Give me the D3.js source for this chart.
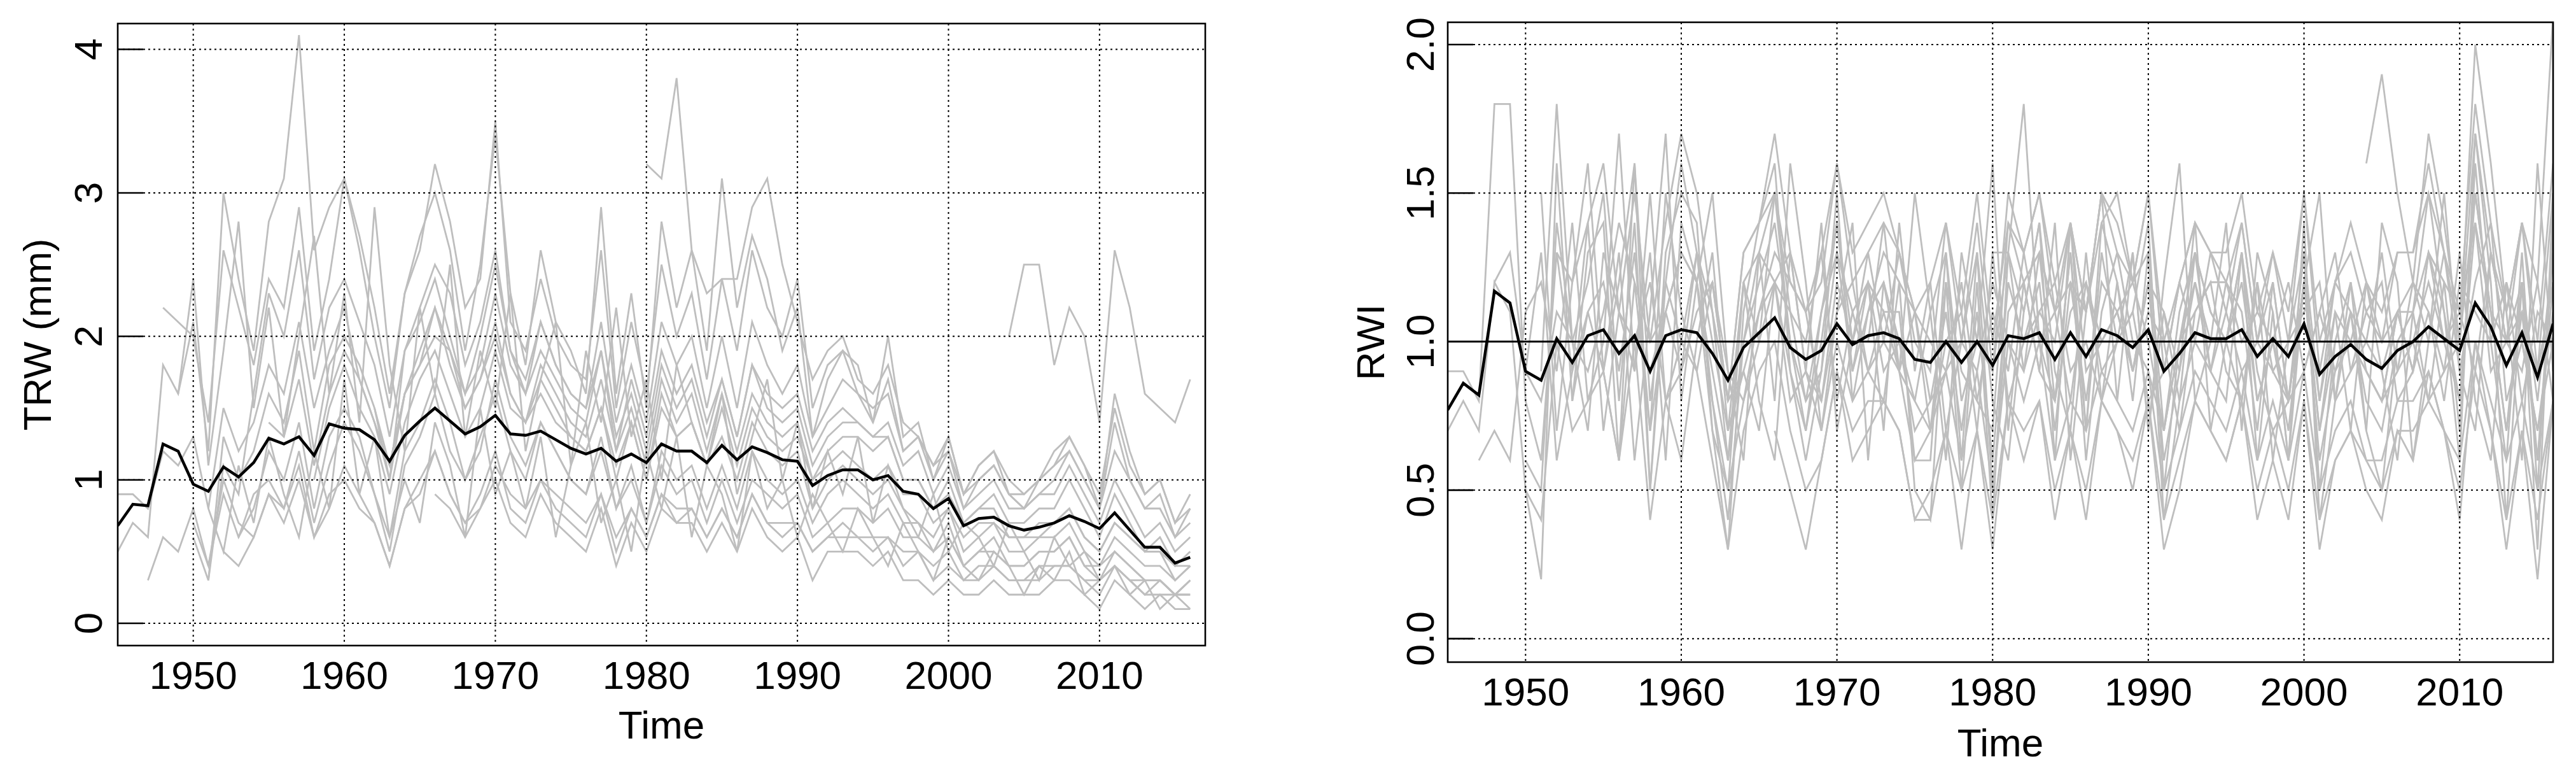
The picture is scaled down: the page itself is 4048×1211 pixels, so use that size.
<!DOCTYPE html>
<html><head><meta charset="utf-8">
<script src="https://cdn.jsdelivr.net/npm/d3@7"></script>
<style>body{margin:0;background:#fff}svg{font-family:"Liberation Sans",Arial,sans-serif}</style>
</head><body><svg id="c" width="4048" height="1211"></svg>
<script>
const startYear = 1945;
const years = d3.range(1945, 2017);
const decadeTicks = [1950,1960,1970,1980,1990,2000,2010];
const trwTicks = [0,1,2,3,4];
const rwiTicks = [0.0,0.5,1.0,1.5,2.0];
const rwiTickLabels = ["0.0","0.5","1.0","1.5","2.0"];
const _ = null;

const trwMean = [0.68,0.83,0.82,1.25,1.2,0.97,0.92,1.09,1.02,1.12,1.29,1.25,1.3,1.17,1.39,1.36,1.35,1.28,1.13,1.31,1.41,1.5,1.41,1.32,1.37,1.45,1.32,1.31,1.34,1.28,1.22,1.18,1.22,1.13,1.18,1.12,1.25,1.2,1.2,1.12,1.24,1.14,1.23,1.19,1.14,1.13,0.96,1.03,1.07,1.07,1.0,1.03,0.92,0.9,0.8,0.87,0.68,0.73,0.74,0.68,0.65,0.67,0.7,0.75,0.71,0.66,0.77,0.65,0.53,0.53,0.42,0.46];
const rwiMean = [0.77,0.86,0.82,1.17,1.13,0.9,0.87,1.01,0.93,1.02,1.04,0.96,1.02,0.9,1.02,1.04,1.03,0.96,0.87,0.98,1.03,1.08,0.98,0.94,0.97,1.06,0.99,1.02,1.03,1.01,0.94,0.93,1.0,0.93,1.0,0.92,1.02,1.01,1.03,0.94,1.03,0.95,1.04,1.02,0.98,1.04,0.9,0.96,1.03,1.01,1.01,1.04,0.95,1.01,0.95,1.06,0.89,0.95,0.99,0.94,0.91,0.97,1.0,1.05,1.01,0.97,1.13,1.05,0.92,1.03,0.88,1.06];

const trwSeries = [
[0.9,0.9,0.8,1.2,1.1,1.3,0.8,1.5,1.2,1.4,1.8,1.6,2.1,1.5,1.9,2.2,1.7,1.4,1.1,1.6,1.9,2.2,1.8,1.5,1.7,2.0,1.6,1.4,1.7,1.5,1.3,1.2,1.5,1.1,1.4,1.0,1.5,1.3,1.4,1.1,1.3,1.0,1.4,1.2,1.1,1.2,0.8,1.0,1.1,1.0,0.9,1.0,0.8,0.7,0.6,0.8,0.5,0.6,0.7,0.5,0.5,0.6,0.6,0.7,0.5,0.4,0.6,0.5,0.4,0.4,0.3,0.4],
[0.5,0.7,0.6,1.8,1.6,2.1,1.2,3.0,2.4,1.9,2.8,3.1,4.1,2.6,2.9,3.1,2.7,2.2,1.6,2.3,2.6,3.2,2.8,2.2,2.4,3.5,2.1,1.9,2.4,2.0,1.8,1.7,2.6,1.5,2.1,1.6,2.5,2.0,2.3,1.7,2.4,1.9,2.6,2.2,2.0,2.4,1.5,1.8,1.9,1.6,1.4,1.7,1.2,1.3,1.0,1.2,0.8,1.0,1.1,0.9,0.8,0.9,1.0,1.2,1.0,0.8,1.4,1.0,0.8,0.9,0.6,0.8],
[_,_,0.3,0.6,0.5,0.8,0.4,1.0,0.7,0.6,0.9,0.8,1.1,0.6,0.9,1.0,0.8,0.7,0.4,0.8,0.9,1.2,0.9,0.7,0.8,1.0,0.7,0.6,0.9,0.7,0.6,0.5,0.8,0.4,0.7,0.5,0.8,0.7,0.7,0.5,0.7,0.5,0.8,0.6,0.5,0.6,0.3,0.5,0.5,0.5,0.4,0.5,0.3,0.3,0.2,0.3,0.2,0.2,0.3,0.2,0.2,0.2,0.3,0.3,0.2,0.1,0.3,0.2,0.1,0.2,0.1,0.1],
[_,_,_,2.2,2.1,2.0,1.4,2.6,2.2,1.8,2.4,2.2,2.9,1.9,2.4,3.1,2.6,2.0,1.5,2.3,2.7,3.0,2.6,1.9,2.5,3.4,2.3,1.8,2.6,2.1,1.9,1.6,2.9,1.6,2.3,1.5,2.8,2.2,2.6,1.9,3.1,2.2,2.7,2.4,1.9,2.2,1.3,1.7,1.9,1.8,1.4,2.0,1.3,1.4,1.0,1.3,0.9,1.1,1.2,0.9,0.8,1.0,1.2,1.3,1.1,0.8,1.6,1.2,0.9,1.0,0.7,0.9],
[_,_,_,_,_,0.7,0.4,0.9,0.6,0.8,1.2,1.0,1.4,0.8,1.3,1.5,1.3,0.9,0.6,1.2,1.4,1.7,1.4,1.0,1.3,1.6,1.2,1.0,1.4,1.2,1.0,0.9,1.2,0.8,1.0,0.7,1.1,0.9,1.0,0.7,1.0,0.7,1.0,0.9,0.8,0.9,0.6,0.7,0.8,0.8,0.7,0.8,0.6,0.6,0.5,0.6,0.4,0.5,0.5,0.4,0.4,0.5,0.5,0.6,0.4,0.3,0.5,0.4,0.3,0.3,0.2,0.3],
[_,_,_,_,_,_,0.3,1.1,0.9,1.6,2.3,2.0,2.6,1.7,2.2,2.4,2.1,1.8,1.3,1.9,2.2,2.5,2.3,1.8,2.1,2.6,1.9,1.6,2.1,1.8,1.6,1.5,1.9,1.2,1.7,1.3,1.9,1.6,1.8,1.4,1.7,1.3,1.8,1.5,1.4,1.5,1.1,1.3,1.4,1.4,1.3,1.3,1.0,1.0,0.8,0.9,0.7,0.8,0.8,0.6,0.6,0.7,0.7,0.8,0.6,0.5,0.7,0.6,0.5,0.5,0.3,0.4],
[_,_,_,_,_,_,_,_,0.6,0.9,1.0,0.8,1.2,0.7,1.1,1.4,1.2,0.9,0.5,1.1,1.3,1.6,1.2,1.0,1.2,1.7,1.3,1.1,1.4,1.2,1.0,0.9,1.3,0.8,1.1,0.7,1.2,1.0,1.1,0.8,1.1,0.8,1.2,1.0,0.9,1.0,0.7,0.9,1.0,0.9,0.8,0.9,0.7,0.7,0.5,0.7,0.4,0.5,0.6,0.4,0.4,0.5,0.5,0.6,0.4,0.4,0.5,0.4,0.3,0.3,0.2,0.3],
[_,_,_,_,_,_,_,_,_,_,1.4,1.3,1.7,1.1,1.6,1.9,1.7,1.4,1.0,1.6,1.8,2.0,1.9,1.5,1.7,2.1,1.6,1.4,1.8,1.6,1.4,1.3,1.7,1.2,1.5,1.1,1.7,1.4,1.6,1.2,1.6,1.2,1.6,1.4,1.3,1.4,1.0,1.2,1.3,1.3,1.2,1.3,1.0,1.0,0.8,1.0,0.7,0.8,0.9,0.7,0.7,0.8,0.8,1.0,0.8,0.6,0.9,0.7,0.5,0.6,0.4,0.5],
[_,_,_,_,_,_,_,_,_,_,_,_,_,1.0,1.5,1.8,1.5,1.3,0.9,1.4,1.7,1.9,1.6,1.3,1.5,1.9,1.5,1.4,1.6,1.4,1.3,1.2,1.5,1.0,1.4,1.0,1.6,1.3,1.4,1.1,1.5,1.1,1.5,1.3,1.2,1.3,1.0,1.1,1.2,1.1,1.0,1.1,0.9,0.9,0.7,0.8,0.6,0.7,0.7,0.6,0.6,0.6,0.7,0.8,0.6,0.5,0.7,0.6,0.5,0.5,0.4,0.4],
[_,_,_,_,_,_,_,_,_,_,_,_,_,_,_,_,_,1.5,1.0,1.9,2.1,2.4,2.0,1.6,2.0,2.5,1.9,1.7,2.1,1.8,1.6,1.5,2.1,1.4,1.8,1.4,2.1,1.8,2.0,1.5,2.0,1.5,2.1,1.8,1.6,1.8,1.3,1.5,1.7,1.6,1.5,1.6,1.2,1.3,1.1,1.2,0.9,1.0,1.1,0.9,0.9,1.0,1.1,1.2,1.0,0.8,1.2,1.0,0.8,0.8,0.6,0.7],
[_,_,_,_,_,_,_,_,_,_,_,_,_,_,_,_,_,_,_,_,_,0.9,0.8,0.6,0.8,1.1,0.9,0.8,1.0,0.9,0.8,0.7,0.9,0.6,0.8,0.6,0.9,0.8,0.8,0.6,0.8,0.6,0.9,0.7,0.7,0.7,0.5,0.6,0.7,0.6,0.6,0.6,0.5,0.5,0.4,0.5,0.3,0.4,0.4,0.3,0.3,0.4,0.4,0.4,0.3,0.3,0.4,0.3,0.3,0.3,0.2,0.2],
[_,_,_,_,_,0.6,0.3,1.3,1.0,1.2,1.6,1.4,1.9,1.2,1.8,2.0,1.8,1.5,1.1,1.6,1.8,2.2,1.9,1.6,1.8,2.3,1.8,1.6,1.9,1.7,1.5,1.4,1.9,1.3,1.6,1.2,1.8,1.5,1.7,1.3,1.7,1.3,1.8,1.6,1.5,1.6,1.2,1.4,1.5,1.4,1.3,1.4,1.1,1.2,0.9,1.1,0.8,0.9,1.0,0.8,0.8,0.9,0.9,1.1,0.9,0.7,1.0,0.8,0.6,0.7,0.5,0.6],
[_,_,_,_,_,_,_,_,_,_,_,_,_,_,_,_,_,_,_,_,_,_,_,_,_,_,_,_,_,_,_,_,_,_,_,_,_,_,_,_,_,_,_,_,_,_,_,_,_,_,_,_,_,_,_,_,_,_,_,2.0,2.5,2.5,1.8,2.2,2.0,1.4,2.6,2.2,1.6,1.5,1.4,1.7],
[_,_,_,_,_,_,_,0.5,0.4,0.6,0.9,0.7,1.0,0.6,0.8,1.1,0.9,0.7,0.4,0.8,1.0,1.2,0.9,0.7,0.9,1.2,0.8,0.7,1.0,0.8,0.7,0.6,0.9,0.5,0.8,0.6,0.9,0.7,0.8,0.6,0.8,0.6,0.9,0.7,0.6,0.7,0.5,0.6,0.6,0.6,0.5,0.6,0.4,0.5,0.3,0.4,0.3,0.3,0.4,0.3,0.3,0.3,0.4,0.4,0.3,0.2,0.4,0.3,0.2,0.2,0.2,0.2],
[_,_,_,_,_,_,_,_,_,_,_,_,_,_,_,_,_,_,_,_,_,_,_,_,_,_,_,_,_,_,_,_,_,_,_,3.2,3.1,3.8,2.6,2.3,2.4,2.4,2.9,3.1,2.5,2.1,1.7,1.9,2.0,1.7,1.6,1.8,1.4,1.3,1.1,1.3,0.9,1.1,1.2,1.0,0.9,1.0,1.1,1.3,1.1,0.9,1.5,1.1,0.9,1.0,0.7,0.8],
[_,_,_,_,_,_,0.8,0.5,1.1,0.7,1.3,0.9,0.6,1.2,0.8,1.7,0.9,1.3,0.6,1.0,0.7,1.4,1.1,0.6,1.5,0.9,1.2,0.8,1.3,0.6,1.1,1.4,0.7,1.0,0.5,1.2,0.8,1.3,0.6,1.1,0.9,0.5,1.2,0.8,1.0,0.6,0.9,0.7,0.5,0.8,0.6,0.4,0.7,0.5,0.3,0.6,0.4,0.3,0.5,0.4,0.2,0.4,0.3,0.5,0.2,0.3,0.4,0.2,0.3,0.1,0.2,0.1],
[_,_,_,_,1.6,2.4,1.1,1.9,2.8,1.5,2.2,1.3,2.0,2.7,1.6,2.3,1.4,2.9,1.8,1.2,2.2,1.6,2.5,1.3,1.9,1.5,2.3,1.2,1.7,2.1,1.1,1.9,1.4,2.2,1.3,1.7,1.0,1.8,1.4,1.1,1.6,0.9,1.3,1.7,1.0,1.4,0.8,1.2,0.9,1.3,0.7,1.1,0.8,0.6,0.9,0.5,0.7,0.6,0.4,0.7,0.5,0.3,0.6,0.4,0.5,0.3,0.4,0.3,0.2,0.3,0.2,0.3]
];

const rwiSeries = [
[0.9,0.9,0.8,1.8,1.8,0.8,0.6,1.3,0.9,1.1,1.2,0.9,1.3,0.7,1.1,1.3,1.2,0.9,0.6,1.0,1.2,1.4,1.0,0.8,0.9,1.3,0.9,1.1,1.2,1.0,0.7,0.8,1.1,0.7,1.1,0.6,1.2,1.0,1.2,0.7,1.2,0.8,1.2,1.1,0.9,1.2,0.6,0.9,1.2,1.0,1.0,1.2,0.8,1.0,0.7,1.2,0.6,0.9,1.1,0.8,0.7,1.0,1.0,1.2,1.0,0.8,1.4,1.1,0.7,1.1,0.6,1.2],
[0.7,0.8,0.7,1.2,1.1,0.5,0.2,1.6,0.8,1.3,1.4,0.6,1.6,0.5,1.3,1.5,1.4,0.7,0.3,1.1,1.4,1.6,0.9,0.6,0.9,1.5,0.8,1.1,1.3,1.2,0.5,0.4,1.2,0.5,1.2,0.4,1.3,1.1,1.4,0.6,1.4,0.7,1.4,1.2,0.8,1.3,0.4,0.8,1.3,1.1,1.0,1.3,0.6,1.1,0.6,1.4,0.4,0.8,1.2,0.7,0.5,1.0,1.1,1.5,1.1,0.6,1.7,1.2,0.4,1.2,0.3,1.5],
[_,_,0.6,0.7,0.6,1.1,1.2,0.9,1.4,0.8,1.0,1.7,0.9,1.3,0.6,1.4,1.2,0.8,0.5,1.2,1.3,1.2,0.9,0.7,1.1,1.4,1.0,1.0,1.4,0.9,0.8,0.7,1.2,0.9,0.8,0.7,1.4,1.2,0.9,0.8,1.3,0.6,1.1,1.3,1.0,0.9,0.7,1.1,1.3,0.9,0.8,1.3,0.9,0.7,0.8,1.2,0.7,1.1,1.0,0.9,0.8,0.9,1.2,1.0,1.3,0.9,1.2,1.4,0.8,1.0,0.7,1.1],
[_,_,_,1.2,1.3,0.9,0.8,1.1,1.0,0.7,1.3,1.1,1.0,1.2,0.8,0.9,1.1,1.2,0.9,0.8,1.0,1.2,1.3,0.9,0.8,1.1,1.2,0.9,1.0,1.3,1.1,0.8,0.9,1.2,0.8,1.1,0.9,1.3,1.0,0.8,1.1,1.2,0.9,1.0,1.1,0.8,0.9,1.2,1.0,1.3,1.1,0.9,1.0,1.2,0.8,0.9,1.1,1.3,0.9,1.1,1.2,0.8,0.9,1.3,1.0,1.1,1.4,0.9,1.0,1.2,0.8,1.3],
[_,_,_,_,_,0.6,0.5,1.4,1.0,1.2,1.5,0.8,1.4,0.5,1.2,1.6,1.3,0.8,0.4,1.0,1.3,1.5,1.0,0.7,1.0,1.4,0.9,1.2,1.1,1.1,0.6,0.6,1.3,0.6,1.3,0.5,1.1,1.2,1.3,0.8,1.3,0.7,1.3,1.0,1.1,1.4,0.5,1.0,1.1,1.2,1.2,1.1,0.7,1.2,0.8,1.3,0.5,1.0,1.0,0.9,0.8,1.1,0.9,1.3,1.2,0.7,1.6,1.0,0.6,1.3,0.5,1.4],
[_,_,_,_,_,_,0.9,1.8,1.0,0.9,1.1,1.4,1.2,1.0,1.1,0.9,1.3,1.0,0.7,0.9,1.1,1.3,1.2,1.1,0.8,1.2,1.0,1.3,1.0,0.9,1.1,1.0,0.9,1.0,0.9,1.2,1.0,0.9,1.3,1.1,0.8,1.2,1.0,1.1,0.9,1.2,1.1,0.8,1.0,0.9,1.2,1.0,1.1,1.0,1.2,0.9,1.1,0.9,1.0,1.2,1.0,1.1,0.9,1.1,0.8,1.2,1.1,1.0,1.2,0.8,1.1,1.0],
[_,_,_,_,_,_,_,_,0.8,1.1,0.9,0.6,1.2,0.7,1.5,1.1,0.9,1.2,0.8,0.9,0.7,1.2,1.1,1.0,1.3,0.8,1.1,0.9,0.8,1.2,1.1,0.7,1.0,1.1,0.7,1.3,0.8,1.0,1.1,1.2,0.9,1.0,0.8,1.2,0.9,1.1,1.0,0.7,1.1,1.2,0.9,0.8,1.2,0.9,1.0,1.1,1.2,0.8,0.9,1.0,1.3,0.9,1.0,0.8,1.2,1.1,0.9,1.3,1.0,0.9,1.2,0.8],
[_,_,_,_,_,_,_,_,_,_,0.9,1.2,1.6,0.8,1.2,1.0,1.3,1.1,0.6,1.2,1.0,1.5,1.1,0.8,1.1,1.3,1.1,1.2,0.9,1.0,0.8,1.1,1.3,0.8,1.0,0.9,1.3,0.9,1.1,1.0,1.4,0.9,1.0,1.1,1.2,1.3,0.7,1.0,1.2,0.9,1.1,1.4,1.0,0.9,0.8,1.2,0.8,1.2,1.1,1.0,0.9,1.1,1.2,1.1,0.9,1.0,1.5,1.1,1.0,1.1,0.9,1.2],
[_,_,_,_,_,_,_,_,_,_,_,_,_,0.9,1.1,1.3,1.2,0.7,0.5,0.8,1.1,1.2,0.8,0.9,0.7,1.0,0.8,0.9,1.1,0.9,0.6,0.7,0.9,0.6,0.9,0.5,1.0,0.8,1.0,0.6,0.8,0.7,0.9,0.8,0.7,0.9,0.5,0.7,0.9,0.8,0.7,0.9,0.6,0.8,0.6,0.9,0.5,0.7,0.8,0.6,0.6,0.8,0.8,0.9,0.7,0.6,1.0,0.8,0.6,0.8,0.5,0.8],
[_,_,_,_,_,_,_,_,_,_,_,_,_,_,_,_,_,1.2,0.8,1.3,1.4,1.5,1.2,1.1,1.3,1.6,1.3,1.4,1.5,1.3,1.1,1.2,1.4,1.1,1.5,1.0,1.4,1.3,1.5,1.2,1.4,1.1,1.5,1.4,1.2,1.5,1.0,1.2,1.4,1.3,1.3,1.5,1.1,1.3,1.1,1.5,1.0,1.2,1.4,1.2,1.1,1.3,1.3,1.6,1.3,1.1,1.8,1.4,1.1,1.4,1.0,1.6],
[_,_,_,_,_,_,_,_,_,_,_,_,_,_,_,_,_,_,_,_,_,0.7,0.5,0.3,0.6,0.9,0.7,0.8,0.8,0.7,0.4,0.4,0.7,0.3,0.7,0.3,0.8,0.6,0.8,0.4,0.7,0.4,0.8,0.7,0.5,0.8,0.3,0.5,0.8,0.7,0.6,0.8,0.4,0.6,0.4,0.8,0.3,0.6,0.7,0.5,0.4,0.7,0.6,0.9,0.7,0.4,1.0,0.7,0.3,0.7,0.2,0.8],
[_,_,_,_,_,0.5,0.4,1.0,0.7,0.8,0.9,0.6,1.0,0.4,0.8,1.0,0.9,0.6,0.3,0.7,0.9,1.0,0.7,0.5,0.6,0.9,0.6,0.7,0.8,0.7,0.4,0.5,0.7,0.5,0.7,0.4,0.8,0.7,0.8,0.5,0.7,0.5,0.8,0.7,0.6,0.8,0.4,0.6,0.8,0.7,0.6,0.8,0.5,0.7,0.5,0.8,0.4,0.6,0.7,0.6,0.5,0.7,0.7,0.8,0.7,0.5,0.9,0.7,0.4,0.7,0.4,0.8],
[_,_,_,_,_,_,_,_,_,_,_,_,_,_,_,_,_,_,_,_,_,_,_,_,_,_,_,_,_,_,_,_,_,_,_,_,_,_,_,_,_,_,_,_,_,_,_,_,_,_,_,_,_,_,_,_,_,_,_,1.6,1.9,1.5,1.2,1.7,1.4,1.0,2.0,1.6,1.1,1.4,1.2,2.1],
[_,_,_,_,_,_,_,1.3,1.2,1.4,1.6,1.1,1.5,1.0,1.4,1.7,1.5,1.1,0.8,1.3,1.4,1.7,1.3,1.1,1.2,1.6,1.2,1.3,1.4,1.3,1.0,0.9,1.4,1.0,1.4,0.9,1.5,1.3,1.5,1.1,1.4,1.1,1.5,1.3,1.2,1.5,0.9,1.2,1.4,1.3,1.2,1.4,1.0,1.3,1.0,1.5,0.9,1.2,1.3,1.1,1.0,1.3,1.3,1.5,1.3,1.0,1.7,1.3,1.0,1.4,0.9,1.5],
[_,_,_,_,_,_,_,_,_,_,_,_,_,_,_,_,_,_,_,_,_,_,_,_,_,_,_,_,_,_,_,_,_,_,_,1.3,1.3,1.8,1.0,1.1,1.2,1.1,1.4,1.5,1.2,1.0,0.7,1.0,1.3,1.1,1.0,1.3,0.8,1.0,0.8,1.2,0.7,1.0,1.2,0.9,0.8,1.1,1.1,1.3,1.1,0.8,1.5,1.1,0.7,1.2,0.6,1.3],
[_,_,_,_,_,_,1.5,0.7,1.2,1.6,0.9,1.3,0.6,1.1,1.7,0.8,1.2,1.5,0.9,0.6,1.3,0.8,1.6,1.2,0.7,1.1,1.4,0.6,1.2,0.9,1.5,1.1,0.6,1.3,1.0,1.6,0.7,1.2,0.9,1.4,0.6,1.1,1.5,0.8,1.3,0.7,1.2,1.6,0.8,1.0,1.4,0.7,1.3,1.1,0.6,1.2,1.5,0.8,1.1,0.7,1.4,1.2,0.6,1.0,1.5,0.9,0.7,1.3,1.1,0.6,1.6,0.9],
[_,_,_,_,_,0.9,1.3,0.6,0.9,1.4,0.7,1.1,0.9,1.5,0.8,0.6,1.0,1.3,0.7,1.2,0.8,0.6,1.3,0.9,1.4,0.7,1.0,1.2,0.7,1.4,0.9,1.2,0.7,1.0,1.3,0.8,0.6,1.1,1.4,0.9,0.7,1.3,0.8,1.0,1.3,0.7,1.1,0.9,1.4,0.7,1.0,0.8,1.2,0.6,1.0,1.3,0.8,1.1,0.7,1.2,0.9,0.6,1.1,0.8,0.9,1.3,0.8,0.6,1.2,1.0,0.7,1.0]
];

const svg = d3.select("#c");
const FS = 62;

function panel(o){
  const x = d3.scaleLinear().domain(o.xdom).range([o.x0,o.x1]);
  const y = d3.scaleLinear().domain(o.ydom).range([o.y1,o.y0]);
  const g = svg.append("g");
  const line = d3.line().defined(d=>d!=null).x((d,i)=>x(years[i])).y(d=>y(d));
  const clip = "clip"+o.id;
  g.append("clipPath").attr("id",clip).append("rect").attr("x",o.x0).attr("y",o.y0).attr("width",o.x1-o.x0).attr("height",o.y1-o.y0);
  const pg = g.append("g").attr("clip-path",`url(#${clip})`);
  pg.selectAll("path.s").data(o.series).join("path").attr("class","s")
    .attr("d",line).attr("fill","none").attr("stroke","#bebebe").attr("stroke-width",2.8);
  pg.selectAll("line.gx").data(decadeTicks).join("line").attr("x1",d=>x(d)).attr("x2",d=>x(d))
    .attr("y1",o.y0).attr("y2",o.y1).attr("stroke","#000").attr("stroke-width",2).attr("stroke-dasharray","3,5");
  pg.selectAll("line.gy").data(o.yticks).join("line").attr("x1",o.x0).attr("x2",o.x1)
    .attr("y1",d=>y(d)).attr("y2",d=>y(d)).attr("stroke","#000").attr("stroke-width",2).attr("stroke-dasharray","3,5");
  if(o.hline!=null) pg.append("line").attr("x1",o.x0).attr("x2",o.x1).attr("y1",y(o.hline)).attr("y2",y(o.hline)).attr("stroke","#000").attr("stroke-width",3);
  pg.append("path").attr("d",line(o.mean)).attr("fill","none").attr("stroke","#000").attr("stroke-width",4.5);
  g.append("rect").attr("x",o.x0).attr("y",o.y0).attr("width",o.x1-o.x0).attr("height",o.y1-o.y0).attr("fill","none").attr("stroke","#000").attr("stroke-width",2.6);
  g.selectAll("line.ty").data(o.yticks).join("line").attr("x1",o.x0).attr("x2",o.x0+40).attr("y1",d=>y(d)).attr("y2",d=>y(d)).attr("stroke","#000").attr("stroke-width",2.6);
  g.selectAll("text.ty").data(o.yticks).join("text").attr("transform",d=>`translate(${o.ylx},${y(d)}) rotate(-90)`)
    .attr("text-anchor","middle").attr("dy","0.35em").attr("font-size",FS).text((d,i)=>o.ylabels[i]);
  g.selectAll("text.tx").data(decadeTicks).join("text").attr("x",d=>x(d)).attr("y",o.xly).attr("text-anchor","middle").attr("font-size",FS).text(d=>d);
  g.append("text").attr("x",(o.x0+o.x1)/2).attr("y",o.tly).attr("text-anchor","middle").attr("font-size",FS).text("Time");
  g.append("text").attr("transform",`translate(${o.titx},${(o.y0+o.y1)/2}) rotate(-90)`).attr("text-anchor","middle").attr("dy","0.35em").attr("font-size",FS).text(o.ytitle);
}

panel({id:1,xdom:[1945,2017],ydom:[-0.155,4.18],x0:185,x1:1894,y0:37,y1:1014,series:trwSeries,mean:trwMean,
  yticks:trwTicks,ylabels:trwTicks.map(String),ylx:138,xly:1082,tly:1160,titx:58,ytitle:"TRW (mm)",hline:null});
panel({id:2,xdom:[1945,2016],ydom:[-0.079,2.075],x0:2275,x1:4012,y0:35,y1:1040,series:rwiSeries,mean:rwiMean,
  yticks:rwiTicks,ylabels:rwiTickLabels,ylx:2231,xly:1108,tly:1188,titx:2153,ytitle:"RWI",hline:1.0});
</script></body></html>
